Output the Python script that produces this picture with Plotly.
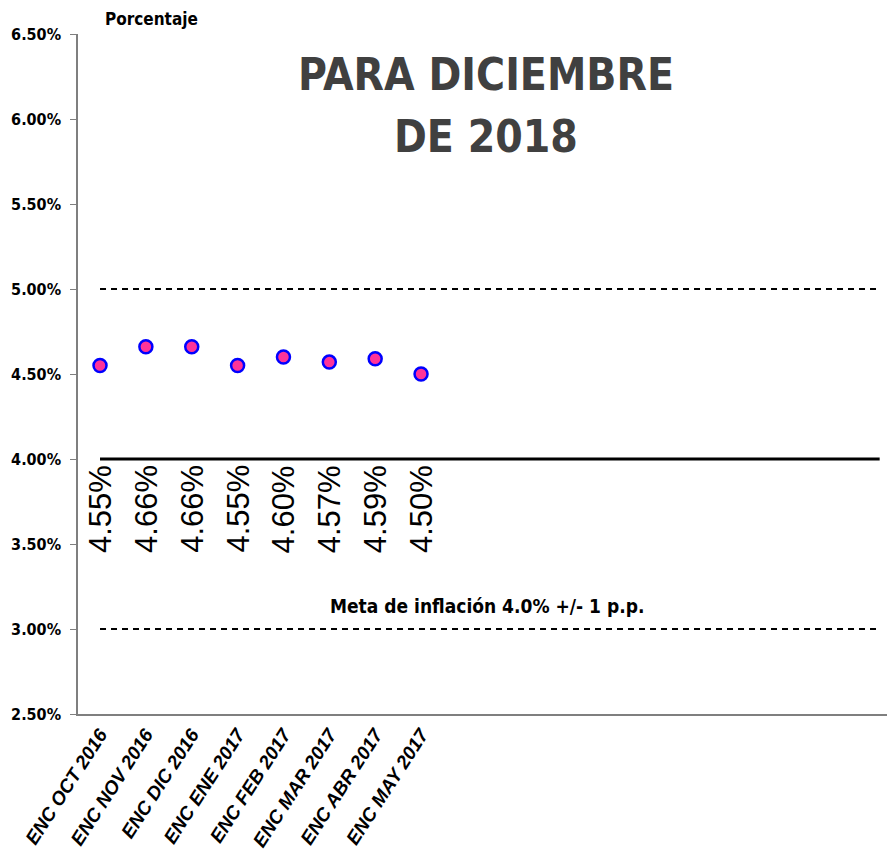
import plotly.graph_objects as go

# ---- data ----
categories = ["ENC OCT 2016", "ENC NOV 2016", "ENC DIC 2016", "ENC ENE 2017",
              "ENC FEB 2017", "ENC MAR 2017", "ENC ABR 2017", "ENC MAY 2017"]
values = [4.55, 4.66, 4.66, 4.55, 4.60, 4.57, 4.59, 4.50]
value_labels = ["4.55%", "4.66%", "4.66%", "4.55%", "4.60%", "4.57%", "4.59%", "4.50%"]

band_x = [0, 17]            # category slots spanned by the target band lines
band_upper = [5.0, 5.0]
band_center = [4.0, 4.0]
band_lower = [3.0, 3.0]

y_ticks = [2.5, 3.0, 3.5, 4.0, 4.5, 5.0, 5.5, 6.0, 6.5]
y_tick_labels = ["2.50%", "3.00%", "3.50%", "4.00%", "4.50%", "5.00%", "5.50%", "6.00%", "6.50%"]
x_idx = list(range(len(categories)))

title_lines = ["PARA DICIEMBRE", "DE 2018"]

COND = "DejaVu Sans Condensed, Liberation Sans Narrow, Arial Narrow, Liberation Sans, sans-serif"
ARIAL = "Liberation Sans, Arial, sans-serif"

W, H = 887, 859
ML, MT, MB = 78, 34, 145
PW, PH = W - ML, H - MT - MB


def px_x(p):
    return (p - ML) / PW


def px_y(p):
    return 1 - (p - MT) / PH


fig = go.Figure()

dash = "6px,5px"
fig.add_trace(go.Scatter(x=band_x, y=band_upper, mode="lines",
                         line=dict(color="black", width=2, dash=dash), hoverinfo="skip"))
fig.add_trace(go.Scatter(x=band_x, y=band_lower, mode="lines",
                         line=dict(color="black", width=2, dash=dash), hoverinfo="skip"))
fig.add_trace(go.Scatter(x=band_x, y=band_center, mode="lines",
                         line=dict(color="black", width=3), hoverinfo="skip"))

fig.add_trace(go.Scatter(x=x_idx, y=values, mode="markers", hoverinfo="skip",
                         marker=dict(size=13, color="#FF3399",
                                     line=dict(color="#0000FF", width=2.5))))

# rotated value labels under the 4.0% line
for i, lab in enumerate(value_labels):
    fig.add_annotation(x=i, y=band_center[0], text=lab, textangle=-90,
                       showarrow=False, xanchor="center", yanchor="top", yshift=-4,
                       font=dict(family=ARIAL, size=31, color="black"))

for line, cy in zip(title_lines, [74, 136]):
    fig.add_annotation(xref="paper", yref="paper", x=px_x(486), y=px_y(cy),
                       text=line, showarrow=False, xanchor="center", yanchor="middle",
                       font=dict(family=COND, size=44, color="#404040", weight="bold"))

fig.add_annotation(xref="paper", yref="paper", x=px_x(103), y=px_y(19),
                   text="Porcentaje", showarrow=False, xanchor="left", yanchor="middle",
                   font=dict(family=COND, size=17, color="black", weight="bold"))

fig.add_annotation(xref="paper", yref="y", x=px_x(487), y=band_lower[0],
                   text="Meta de inflación 4.0% +/- 1 p.p.",
                   showarrow=False, xanchor="center", yanchor="bottom", yshift=10,
                   font=dict(family=COND, size=19, color="black", weight="bold"))

fig.update_layout(
    width=W, height=H,
    margin=dict(l=ML, r=0, t=MT, b=MB),
    paper_bgcolor="white", plot_bgcolor="white",
    showlegend=False,
    xaxis=dict(range=[-0.48, 17.16], tickvals=x_idx, ticktext=categories,
               tickangle=-57, showgrid=False, zeroline=False,
               showline=True, linecolor="#7f7f7f", linewidth=2, ticks="",
               tickfont=dict(family=ARIAL, size=19, color="black",
                             weight="bold", style="italic")),
    yaxis=dict(range=[2.5, 6.5], tickvals=y_ticks, ticktext=y_tick_labels,
               showgrid=False, zeroline=False, showline=True, linecolor="#7f7f7f",
               linewidth=1.5, ticks="outside", ticklen=6, tickcolor="#7f7f7f",
               ticklabelstandoff=6,
               tickfont=dict(family=COND, size=16, color="black", weight="bold")),
)

fig.write_html("out.html", config={"displayModeBar": False},
               post_script="document.body.style.margin='0';")
